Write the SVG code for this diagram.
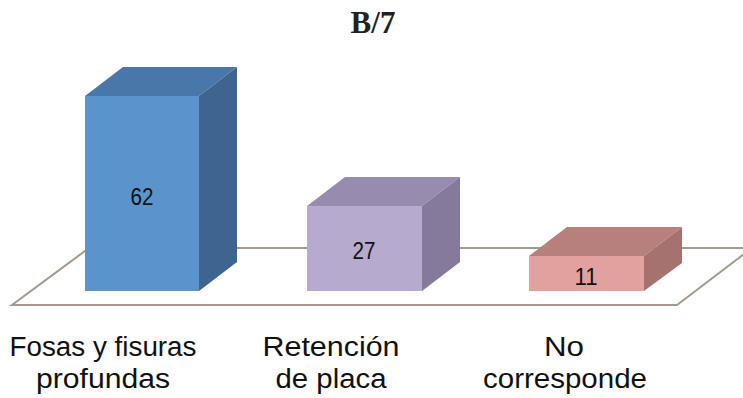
<svg xmlns="http://www.w3.org/2000/svg" width="743" height="398" viewBox="0 0 743 398">
<style>
.floor{fill:#ffffff;stroke:#a8988f;stroke-width:2}
.val{font-family:"Liberation Sans",Arial,sans-serif;font-size:23px;fill:#111111;text-anchor:middle}
.cat{font-family:"Liberation Sans",Arial,sans-serif;font-size:27px;fill:#111111;text-anchor:middle}
.title{font-family:"Liberation Serif",serif;font-size:31px;font-weight:bold;fill:#222222;text-anchor:middle}
</style>
<rect width="743" height="398" fill="#ffffff"/>
<text class="title" x="373" y="33">B/7</text>
<g id="floor">
<polygon class="floor" points="12,305 677,305 752,248 89,248"/>
</g>
<g id="bar1">
<polygon points="85,96 199,96 237,67 123,67" fill="#4a77a9"/>
<polygon points="199,96 237,67 237,262 199,291" fill="#3e6590"/>
<rect x="85" y="96" width="114" height="195" fill="#5b94cc"/>
<text class="val" x="142" y="205" textLength="23" lengthAdjust="spacingAndGlyphs">62</text>
</g>
<g id="bar2">
<polygon points="307,206 422,206 460,177 345,177" fill="#978bae"/>
<polygon points="422,206 460,177 460,262 422,291" fill="#857a9c"/>
<rect x="307" y="206" width="115" height="85" fill="#b6aacf"/>
<text class="val" x="364" y="259" textLength="23" lengthAdjust="spacingAndGlyphs">27</text>
</g>
<g id="bar3">
<polygon points="529,256 644,256 682,227 567,227" fill="#b8807c"/>
<polygon points="644,256 682,227 682,263 644,291" fill="#a6726f"/>
<rect x="529" y="256" width="115" height="35" fill="#e2a19e"/>
<text class="val" x="586" y="285" textLength="23" lengthAdjust="spacingAndGlyphs">11</text>
</g>
<g id="labels">
<text class="cat" x="103" y="356" textLength="187" lengthAdjust="spacingAndGlyphs">Fosas y fisuras</text>
<text class="cat" x="103" y="388" textLength="134" lengthAdjust="spacingAndGlyphs">profundas</text>
<text class="cat" x="331" y="356" textLength="137" lengthAdjust="spacingAndGlyphs">Retención</text>
<text class="cat" x="331" y="388" textLength="111" lengthAdjust="spacingAndGlyphs">de placa</text>
<text class="cat" x="564" y="356" textLength="40" lengthAdjust="spacingAndGlyphs">No</text>
<text class="cat" x="565" y="388" textLength="164" lengthAdjust="spacingAndGlyphs">corresponde</text>
</g>
</svg>
